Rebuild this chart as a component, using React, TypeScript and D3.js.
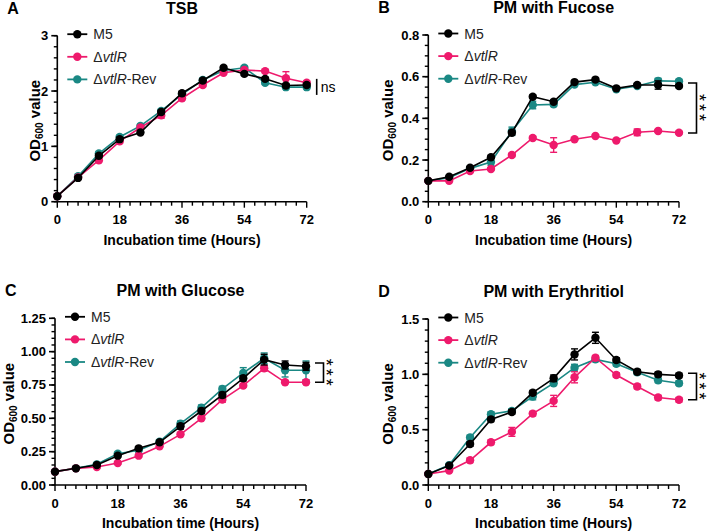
import React from 'react';
import * as d3 from 'd3';

// sampling times (hours)
const hours = [0, 6, 12, 18, 24, 30, 36, 42, 48, 54, 60, 66, 72];
const xTicks = [0, 18, 36, 54, 72];
const strainColors = ['#000000', '#ee1a6c', '#1a8884'];

// A - TSB
const tsbM5 = [0.1, 0.43, 0.83, 1.13, 1.25, 1.62, 1.96, 2.19, 2.42, 2.31, 2.22, 2.1, 2.11];
const tsbKO = [0.1, 0.44, 0.75, 1.09, 1.34, 1.56, 1.87, 2.11, 2.33, 2.38, 2.36, 2.23, 2.15];
const tsbRev = [0.1, 0.46, 0.87, 1.17, 1.37, 1.64, 1.94, 2.2, 2.37, 2.42, 2.15, 2.07, 2.07];
const tsbM5Err = [0, 0.02, 0.03, 0.03, 0.03, 0.03, 0.03, 0.03, 0.03, 0.03, 0.03, 0.03, 0.03];
const tsbKOErr = [0, 0.02, 0.03, 0.03, 0.03, 0.05, 0.03, 0.03, 0.03, 0.03, 0.03, 0.12, 0.03];
const tsbRevErr = [0, 0.02, 0.03, 0.03, 0.03, 0.03, 0.03, 0.03, 0.03, 0.03, 0.03, 0.03, 0.03];

// B - PM with Fucose
const fucM5 = [0.1, 0.12, 0.163, 0.213, 0.331, 0.504, 0.48, 0.574, 0.586, 0.544, 0.56, 0.56, 0.555];
const fucKO = [0.1, 0.1, 0.147, 0.157, 0.224, 0.306, 0.272, 0.3, 0.315, 0.294, 0.333, 0.339, 0.331];
const fucRev = [0.1, 0.115, 0.16, 0.19, 0.338, 0.464, 0.467, 0.562, 0.573, 0.54, 0.555, 0.58, 0.578];
const fucM5Err = [0, 0, 0.005, 0.005, 0.01, 0.008, 0.008, 0.006, 0.006, 0.006, 0.008, 0.02, 0.008];
const fucKOErr = [0, 0, 0.005, 0.005, 0.008, 0.008, 0.035, 0.006, 0.006, 0.006, 0.016, 0.006, 0.006];
const fucRevErr = [0, 0, 0.005, 0.015, 0.02, 0.018, 0.01, 0.006, 0.006, 0.006, 0.006, 0.012, 0.006];

// C - PM with Glucose
const gluM5 = [0.1, 0.125, 0.15, 0.22, 0.275, 0.32, 0.44, 0.555, 0.675, 0.8, 0.94, 0.9, 0.89];
const gluKO = [0.1, 0.125, 0.135, 0.165, 0.22, 0.29, 0.38, 0.5, 0.64, 0.745, 0.875, 0.77, 0.77];
const gluRev = [0.1, 0.125, 0.155, 0.235, 0.26, 0.325, 0.46, 0.58, 0.72, 0.84, 0.95, 0.86, 0.86];
const gluM5Err = [0, 0.005, 0.01, 0.01, 0.01, 0.01, 0.02, 0.02, 0.02, 0.02, 0.04, 0.03, 0.03];
const gluKOErr = [0, 0.005, 0.01, 0.01, 0.01, 0.01, 0.01, 0.01, 0.02, 0.01, 0.02, 0.01, 0.01];
const gluRevErr = [0, 0.005, 0.01, 0.01, 0.01, 0.01, 0.02, 0.02, 0.02, 0.04, 0.04, 0.05, 0.07];

// D - PM with Erythritiol
const eryM5 = [0.1, 0.175, 0.37, 0.593, 0.66, 0.834, 0.964, 1.18, 1.33, 1.13, 1.024, 1.0, 0.99];
const eryKO = [0.1, 0.13, 0.223, 0.386, 0.48, 0.645, 0.76, 0.973, 1.15, 0.994, 0.89, 0.79, 0.77];
const eryRev = [0.1, 0.18, 0.43, 0.64, 0.67, 0.8, 0.92, 1.06, 1.135, 1.096, 1.018, 0.946, 0.92];
const eryM5Err = [0, 0.01, 0.02, 0.02, 0.02, 0.02, 0.03, 0.05, 0.05, 0.02, 0.02, 0.02, 0.02];
const eryKOErr = [0, 0.01, 0.02, 0.02, 0.04, 0.02, 0.05, 0.05, 0.02, 0.02, 0.02, 0.02, 0.02];
const eryRevErr = [0, 0.01, 0.02, 0.02, 0.02, 0.03, 0.02, 0.03, 0.02, 0.02, 0.02, 0.02, 0.02];

const font = 'Liberation Sans, Arial, Helvetica, sans-serif';

const panels = [
  {
    letter: 'A', title: 'TSB', x0: 57.3, x1: 306.7, yTop: 35.7, yBot: 201.7,
    yMax: 3, yTicks: [0, 1, 2, 3], minorStep: 0.2, fmt: d3.format('d'), titleX: 40,
    series: [tsbM5, tsbKO, tsbRev], errs: [tsbM5Err, tsbKOErr, tsbRevErr],
    sig: { label: 'ns', top: 2.22, bottom: 1.93 },
  },
  {
    letter: 'B', title: 'PM with Fucose', x0: 428.3, x1: 679, yTop: 35, yBot: 201.7,
    yMax: 0.8, yTicks: [0, 0.2, 0.4, 0.6, 0.8], minorStep: 0.05, fmt: d3.format('.1f'), titleX: 393,
    series: [fucM5, fucKO, fucRev], errs: [fucM5Err, fucKOErr, fucRevErr],
    sig: { label: '***', top: 0.57, bottom: 0.33 },
  },
  {
    letter: 'C', title: 'PM with Glucose', x0: 55, x1: 306, yTop: 318.3, yBot: 485,
    yMax: 1.25, yTicks: [0, 0.25, 0.5, 0.75, 1, 1.25], minorStep: 0.05, fmt: d3.format('.2f'), titleX: 14,
    series: [gluM5, gluKO, gluRev], errs: [gluM5Err, gluKOErr, gluRevErr],
    sig: { label: '***', top: 0.915, bottom: 0.77 },
  },
  {
    letter: 'D', title: 'PM with Erythritiol', x0: 428.3, x1: 679, yTop: 319, yBot: 485,
    yMax: 1.5, yTicks: [0, 0.5, 1, 1.5], minorStep: 0.1, fmt: d3.format('.1f'), titleX: 393,
    series: [eryM5, eryKO, eryRev], errs: [eryM5Err, eryKOErr, eryRevErr],
    sig: { label: '***', top: 1.01, bottom: 0.77 },
  },
];

const Legend = ({ x, y }: { x: number; y: number }) => (
  <g fontFamily={font} fontSize={14}>
    {strainColors.map((c, i) => (
      <g key={i} transform={`translate(${x},${y + i * 22.6})`}>
        <line x1={-10} x2={10} y1={0} y2={0} stroke={c} strokeWidth={1.8} />
        <circle r={4.2} fill={c} />
        <text x={16} y={5} fill="#222">
          {i === 0 ? 'M5' : (
            <>
              <tspan>Δ</tspan>
              <tspan fontStyle="italic">vtlR</tspan>
              {i === 2 ? <tspan>-Rev</tspan> : null}
            </>
          )}
        </text>
      </g>
    ))}
  </g>
);

const Panel = ({ p }: { p: (typeof panels)[number] }) => {
  const x = d3.scaleLinear().domain([0, 72]).range([p.x0, p.x1]);
  const y = d3.scaleLinear().domain([0, p.yMax]).range([p.yBot, p.yTop]);
  const xMinor = d3.range(0, 72.001, 3);
  const yMinor = d3.range(0, p.yMax + 1e-6, p.minorStep);
  const line = d3.line<number>().x((_, i) => x(hours[i])).y((d) => y(d));
  const order = [2, 1, 0];
  const bx = p.x1 + 9;
  const yt = y(p.sig.top);
  const yb = y(p.sig.bottom);
  const midX = (p.x0 + p.x1) / 2;
  return (
    <g fontFamily={font}>
      <text x={p.x0 - 50} y={p.yTop - 22} fontSize={16} fontWeight="bold">{p.letter}</text>
      <text x={midX} y={p.yTop - 22} fontSize={16} fontWeight="bold" textAnchor="middle">{p.title}</text>

      {/* axes */}
      <line x1={p.x0} x2={p.x1} y1={p.yBot} y2={p.yBot} stroke="#000" strokeWidth={1.6} />
      <line x1={p.x0} x2={p.x0} y1={p.yTop} y2={p.yBot} stroke="#000" strokeWidth={1.6} />
      {xMinor.map((t) => (
        <line key={'xm' + t} x1={x(t)} x2={x(t)} y1={p.yBot} y2={p.yBot + (t % 18 === 0 ? 6 : 4)} stroke="#000" strokeWidth={1.4} />
      ))}
      {yMinor.map((t, i) => (
        <line key={'ym' + i} x1={p.x0} x2={p.x0 - 3.5} y1={y(t)} y2={y(t)} stroke="#000" strokeWidth={1.4} />
      ))}
      {p.yTicks.map((t) => (
        <g key={'yt' + t}>
          <line x1={p.x0} x2={p.x0 - 6} y1={y(t)} y2={y(t)} stroke="#000" strokeWidth={1.6} />
          <text x={p.x0 - 9} y={y(t) + 4.5} fontSize={13} fontWeight="bold" textAnchor="end">{p.fmt(t)}</text>
        </g>
      ))}
      {xTicks.map((t) => (
        <text key={'xt' + t} x={x(t)} y={p.yBot + 22.5} fontSize={13} fontWeight="bold" textAnchor="middle">{t}</text>
      ))}
      <text x={midX} y={p.yBot + 43} fontSize={14} fontWeight="bold" textAnchor="middle">Incubation time (Hours)</text>
      <text transform={`translate(${p.titleX},${(p.yTop + p.yBot) / 2 + 2}) rotate(-90)`} fontSize={15} fontWeight="bold" textAnchor="middle">
        <tspan>OD</tspan>
        <tspan fontSize={10} dy={3}>600</tspan>
        <tspan dy={-3}> value</tspan>
      </text>

      {/* series */}
      {order.map((s) => {
        const c = strainColors[s];
        const vals = p.series[s];
        const err = p.errs[s];
        return (
          <g key={'s' + s}>
            <path d={line(vals) || ''} fill="none" stroke={c} strokeWidth={1.6} />
            {vals.map((v, i) => (
              <g key={i}>
                {err[i] > 0 ? (
                  <g stroke={c} strokeWidth={1.4}>
                    <line x1={x(hours[i])} x2={x(hours[i])} y1={y(v - err[i])} y2={y(v + err[i])} />
                    <line x1={x(hours[i]) - 3.5} x2={x(hours[i]) + 3.5} y1={y(v + err[i])} y2={y(v + err[i])} />
                    <line x1={x(hours[i]) - 3.5} x2={x(hours[i]) + 3.5} y1={y(v - err[i])} y2={y(v - err[i])} />
                  </g>
                ) : null}
                <circle cx={x(hours[i])} cy={y(v)} r={4.2} fill={c} />
              </g>
            ))}
          </g>
        );
      })}

      {/* significance */}
      {p.sig.label === 'ns' ? (
        <g>
          <line x1={bx + 1} x2={bx + 1} y1={yt} y2={yb} stroke="#000" strokeWidth={1.6} />
          <text x={bx + 5} y={(yt + yb) / 2 + 5} fontSize={14}>ns</text>
        </g>
      ) : (
        <g>
          <path d={`M${bx},${yt}H${bx + 8.5}V${yb}H${bx}`} fill="none" stroke="#000" strokeWidth={1.6} />
          <text
            transform={`translate(${bx + 5},${(yt + yb) / 2 + 1}) rotate(90)`}
            fontSize={18}
            textAnchor="middle"
            letterSpacing={3}
          >
            ***
          </text>
        </g>
      )}

      <Legend x={p.x0 + 20} y={p.yTop - 1.5} />
    </g>
  );
};

const App = () => (
  <svg width={710} height={531} style={{ position: 'absolute', left: 0, top: 0, background: '#fff' }}>
    {panels.map((p) => (
      <Panel key={p.letter} p={p} />
    ))}
  </svg>
);

export default App;
